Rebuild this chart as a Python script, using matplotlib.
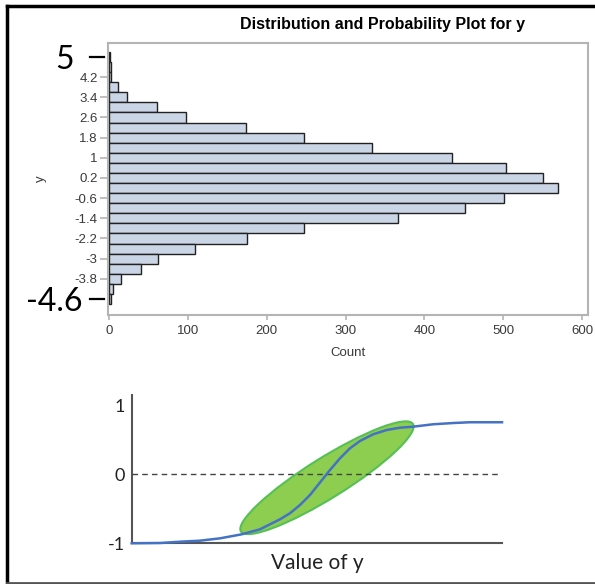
import numpy as np
import matplotlib.pyplot as plt
from matplotlib.patches import Ellipse
from matplotlib.lines import Line2D
import matplotlib.transforms as mtrans

# histogram data (bin midpoints and counts)
mids = [5.0, 4.6, 4.2, 3.8, 3.4, 3.0, 2.6, 2.2, 1.8, 1.4, 1.0, 0.6, 0.2,
        -0.2, -0.6, -1.0, -1.4, -1.8, -2.2, -2.6, -3.0, -3.4, -3.8, -4.2, -4.6]
counts = [1, 2, 2, 11, 23, 61, 98, 174, 247, 334, 435, 503, 550,
          570, 501, 451, 367, 247, 175, 109, 62, 40, 15, 5, 2]
ytick_vals = [4.2, 3.4, 2.6, 1.8, 1, 0.2, -0.6, -1.4, -2.2, -3, -3.8]
ytick_labels = ["4.2", "3.4", "2.6", "1.8", "1", "0.2", "-0.6", "-1.4", "-2.2", "-3", "-3.8"]
xtick_vals = [0, 100, 200, 300, 400, 500, 600]
end_vals = [5, -4.6]
end_labels = ["5", "-4.6"]

# sketch of the curve (value of y vs score)
curve_x = [0, 0.41, 0.70, 0.99, 1.28, 1.594, 1.86, 2.15, 2.294, 2.439, 2.584, 2.729,
           2.874, 3.019, 3.164, 3.309, 3.501, 3.696, 3.888, 4.081, 4.371, 4.661, 4.903, 5.367]
curve_y = [-1.0, -0.996, -0.977, -0.962, -0.928, -0.870, -0.797, -0.652, -0.565, -0.445,
           -0.300, -0.119, 0.062, 0.232, 0.377, 0.483, 0.580, 0.642, 0.675, 0.690,
           0.725, 0.743, 0.754, 0.754]
# ellipse: center, width, height, angle
ell_c = (2.83, -0.05)
ell_w, ell_h, ell_ang = 2.94, 0.58, 32

W, H = 595, 584
fig = plt.figure(figsize=(W / 100, H / 100), dpi=100)
plt.rcParams['font.family'] = ['Liberation Sans', 'DejaVu Sans']

gray = '#b4b4b4'
txt = '#3a3a3a'

# ---- histogram ----
ax = fig.add_axes([108 / W, 1 - 315 / H, 480 / W, 272.3 / H])
ax.barh(mids, counts, height=0.4, color='#cad5e5', edgecolor='#222222', linewidth=1.0)
ax.set_ylim(-5.235, 5.567)
ax.set_xlim(-1.6, 607.5)
for s in ax.spines.values():
    s.set_color(gray)
    s.set_linewidth(1.5)
ax.set_yticks(ytick_vals)
ax.set_yticklabels(ytick_labels)
ax.set_xticks(xtick_vals)
ax.tick_params(axis='y', colors=gray, labelcolor=txt, labelsize=9.5, length=5.5, width=1.2, pad=2)
ax.tick_params(axis='x', colors=gray, labelcolor=txt, labelsize=9.5, length=3.5, width=1.2, pad=4)
ax.set_xlabel("Count", fontsize=9.5, color=txt, labelpad=7)
ax.set_ylabel("y", fontsize=9.5, color=txt)
ax.yaxis.set_label_coords((47 - 108) / 480, 0.5)

# big annotated end values
bt = mtrans.blended_transform_factory(ax.transAxes, ax.transData)
for v, lab, xr in zip(end_vals, end_labels, [74, 82]):
    ax.add_line(Line2D([(90 - 108) / 480, (104 - 108) / 480], [v, v], transform=bt,
                       color='black', lw=1.6, clip_on=False))
    ax.text((xr - 108) / 480, v, lab, transform=bt, ha='right', va='center_baseline',
            fontsize=23, family=['Lato', 'DejaVu Sans'], color='black', clip_on=False)

fig.text(382.5 / W, 1 - 25 / H, "Distribution and Probability Plot for y",
         ha='center', va='center', fontsize=11.5, fontweight='bold', color='black')

# ---- lower sketch ----
ax2 = fig.add_axes([131.7 / W, 1 - 543.3 / H, 370.3 / W, 148.3 / H])
ax2.set_xlim(0, 5.367)
ax2.set_ylim(-1, 1.149)
ax2.add_patch(Ellipse(ell_c, ell_w, ell_h, angle=ell_ang, facecolor='#8dcd50',
                      edgecolor='#55c055', linewidth=1.5, zorder=2))
ax2.axhline(0, color='#444444', lw=1.0, ls=(0, (4, 3)), zorder=3)
ax2.plot(curve_x, curve_y, color='#4472c4', lw=1.8, zorder=4, clip_on=False)
for k in ['top', 'right']:
    ax2.spines[k].set_visible(False)
for k in ['left', 'bottom']:
    ax2.spines[k].set_color('#555555')
    ax2.spines[k].set_linewidth(1.5)
ax2.set_xticks([])
ax2.set_yticks([-1, 0, 1])
ax2.set_yticklabels(["-1", "0", "1"])
ax2.tick_params(axis='y', length=0, pad=5, labelsize=13, labelcolor='#222222')
for t in ax2.get_yticklabels():
    t.set_family(['Lato', 'DejaVu Sans'])
ax2.set_xlabel("Value of y", fontsize=15, family=['Lato', 'DejaVu Sans'], color='#222222', labelpad=7)

# outer frame
fig.add_artist(Line2D([6.5 / W, 6.5 / W], [1 - 5.5 / H, 1 - 582.5 / H], color='black', lw=2.5))
fig.add_artist(Line2D([6.5 / W, 1.0], [1 - 5.5 / H, 1 - 5.5 / H], color='black', lw=2.5))
fig.add_artist(Line2D([6.5 / W, 1.0], [1 - 582.5 / H, 1 - 582.5 / H], color='#555555', lw=2))

fig.savefig("out.png", dpi=100)
